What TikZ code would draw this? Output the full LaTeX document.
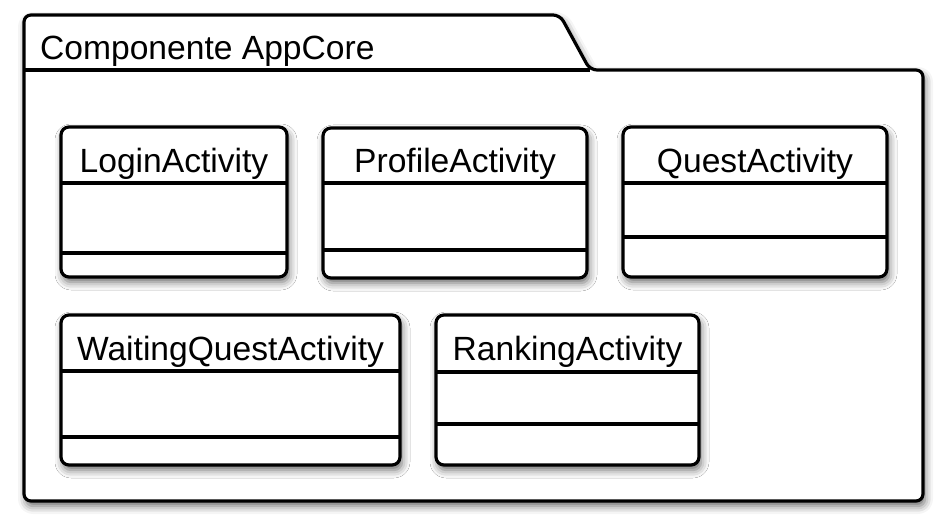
\documentclass[tikz,border=0pt]{standalone}
\usepackage{fontspec}
\setmainfont{Liberation Sans}
\usetikzlibrary{shadows.blur}
\tikzset{
  shad/.style={blur shadow={shadow xshift=2pt, shadow yshift=-5pt, shadow blur radius=8pt, shadow opacity=60}},
  pkg/.style={draw=black, line width=3.2pt, fill=white, rounded corners=7pt, shad},
  cls/.style={draw=black, line width=3.2pt, fill=white, rounded corners=8pt, rectangle, inner sep=0pt, outer sep=0pt, shad},
  sep/.style={draw=black, line width=3.4pt},
  ttl/.style={font=\fontsize{33.6}{40}\selectfont, inner sep=0pt, anchor=base},
}
\begin{document}
\begin{tikzpicture}[x=1pt,y=-1pt]
\useasboundingbox (0,0) rectangle (943,518);
% package
\path[pkg] (24,501) -- (24,15) -- (560,15) -- (590,70) -- (923,70) -- (923,501) -- cycle;
\coordinate (tabL) at (24,70);
\coordinate (tabR) at (590,70);
\draw[sep] (tabL) -- (tabR);
\node[ttl, anchor=base west] (pkgtitle) at (40,60) {Componente AppCore};
% classes
\node[cls, minimum width=226pt, minimum height=150pt] (login) at (174,202) {};
\node[cls, minimum width=264pt, minimum height=150pt] (profile) at (455,203) {};
\node[cls, minimum width=264pt, minimum height=150pt] (quest) at (755,202) {};
\node[cls, minimum width=339pt, minimum height=150pt] (waiting) at (230.5,390) {};
\node[cls, minimum width=263pt, minimum height=150pt] (ranking) at (567.5,390) {};
% titles
\node[ttl] (loginT) at (174,173) {LoginActivity};
\node[ttl] (profileT) at (455,173) {ProfileActivity};
\node[ttl] (questT) at (755,173) {QuestActivity};
\node[ttl] (waitingT) at (230.5,361) {WaitingQuestActivity};
\node[ttl] (rankingT) at (567.5,361) {RankingActivity};
% compartments
\draw[sep] (login.west |- 0,183) -- (login.east |- 0,183);
\draw[sep] (login.west |- 0,253) -- (login.east |- 0,253);
\draw[sep] (profile.west |- 0,183) -- (profile.east |- 0,183);
\draw[sep] (profile.west |- 0,250) -- (profile.east |- 0,250);
\draw[sep] (quest.west |- 0,183) -- (quest.east |- 0,183);
\draw[sep] (quest.west |- 0,237) -- (quest.east |- 0,237);
\draw[sep] (waiting.west |- 0,371) -- (waiting.east |- 0,371);
\draw[sep] (waiting.west |- 0,437) -- (waiting.east |- 0,437);
\draw[sep] (ranking.west |- 0,372) -- (ranking.east |- 0,372);
\draw[sep] (ranking.west |- 0,424) -- (ranking.east |- 0,424);
\end{tikzpicture}
\end{document}
